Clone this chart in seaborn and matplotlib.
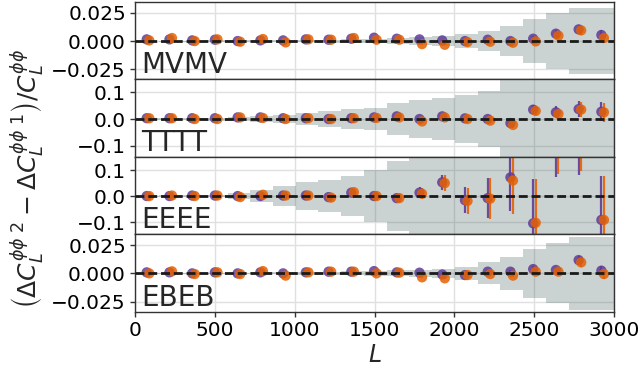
import numpy as np
import pandas as pd
import matplotlib
matplotlib.use("Agg")
import matplotlib.pyplot as plt
import seaborn as sns

# ---------------- data ----------------
bin_edges = [10.0, 152.4, 294.8, 437.1, 579.5, 721.9, 864.3, 1006.7, 1149.0, 1291.4,
             1433.8, 1576.2, 1718.6, 1860.9, 2003.3, 2145.7, 2288.1, 2430.5, 2572.9,
             2715.2, 2857.6, 3000.0]
bin_centers = [81.2, 223.6, 366.0, 508.3, 650.7, 793.1, 935.5, 1077.9, 1220.2, 1362.6,
               1505.0, 1647.4, 1789.8, 1932.1, 2074.5, 2216.9, 2359.3, 2501.7, 2644.0,
               2786.4, 2928.8]

panel_names = ["MVMV", "TTTT", "EEEE", "EBEB"]

band_mvmv = [0.0003, 0.0004, 0.0005, 0.0006, 0.0007, 0.0008, 0.0009, 0.0011, 0.0013, 0.0016,
             0.0019, 0.0025, 0.0033, 0.0045, 0.0064, 0.0092, 0.0134, 0.0194, 0.0247, 0.0293, 0.0296]
band_tttt = [0.002, 0.003, 0.004, 0.0055, 0.0075, 0.011, 0.016, 0.024, 0.030, 0.036,
             0.041, 0.060, 0.070, 0.079, 0.088, 0.106, 0.20, 0.25, 0.30, 0.35, 0.40]
band_eeee = [0.002, 0.003, 0.004, 0.005, 0.012, 0.023, 0.037, 0.054, 0.063, 0.076,
             0.099, 0.135, 0.20, 0.25, 0.30, 0.35, 0.40, 0.45, 0.50, 0.55, 0.60]
band_ebeb = [0.0003, 0.0004, 0.0005, 0.0006, 0.0007, 0.0008, 0.0009, 0.0011, 0.0014, 0.0017,
             0.0021, 0.0027, 0.0030, 0.0040, 0.0060, 0.0097, 0.0147, 0.0215, 0.0267, 0.0323, 0.0323]

mvmv_purple = [0.0015, 0.0015, 0.0006, 0.0012, 0.0, 0.0006, 0.0006, 0.0015, 0.0012, 0.0021,
               0.0030, 0.0021, 0.0015, 0.0006, 0.0, 0.0012, 0.0, 0.0021, 0.0066, 0.0104, 0.0054]
mvmv_orange = [0.0006, 0.0027, 0.0, 0.0015, -0.0006, 0.0018, -0.0012, 0.0015, 0.0012, 0.0027,
               0.0012, 0.0012, -0.0027, -0.0033, -0.0009, -0.0006, -0.0015, -0.0003, 0.0048, 0.0095, 0.0027]
tttt_purple = [0.003, 0.003, 0.003, 0.003, 0.006, 0.006, 0.003, 0.003, 0.0, 0.003,
               0.006, 0.010, 0.0, 0.010, 0.0025, 0.0, -0.015, 0.035, 0.025, 0.037, 0.027]
tttt_orange = [0.003, 0.003, 0.0, 0.0, 0.006, 0.004, 0.0, 0.003, 0.0, 0.003,
               0.004, 0.006, -0.009, 0.006, 0.0, -0.006, -0.022, 0.030, 0.019, 0.035, 0.025]
eeee_purple = [0.0, 0.0, 0.002, 0.002, 0.0, 0.0, 0.002, 0.002, -0.004, 0.013,
               0.0, -0.008, 0.013, 0.053, -0.016, -0.008, 0.072, -0.105, 0.242, 0.251, -0.092]
eeee_orange = [0.0, 0.002, 0.0, 0.002, -0.004, 0.005, 0.002, 0.002, -0.006, 0.015,
               0.0, -0.008, 0.009, 0.050, -0.019, -0.010, 0.060, -0.103, 0.255, 0.267, -0.092]
ebeb_purple = [0.0009, 0.0009, 0.0, 0.0009, 0.0, 0.0009, 0.0, 0.0009, 0.0015, 0.0015,
               0.0020, 0.0009, 0.0006, -0.0010, -0.0015, 0.0015, 0.0015, 0.0038, 0.0030, 0.0118, 0.0024]
ebeb_orange = [0.0, 0.0018, -0.0006, 0.0009, -0.0006, 0.0020, -0.0020, 0.0009, 0.0015, 0.0015,
               0.0, 0.0006, -0.0035, -0.0044, -0.0015, -0.0006, -0.0020, 0.0015, 0.0015, 0.0097, -0.0006]

err_mvmv = [0.0001, 0.0001, 0.0001, 0.0001, 0.0001, 0.0001, 0.0002, 0.0002, 0.0002, 0.0003,
            0.0003, 0.0004, 0.0005, 0.0006, 0.0008, 0.0011, 0.0016, 0.0024, 0.0030, 0.0038, 0.0040]
err_tttt = [0.0003, 0.0004, 0.0005, 0.0006, 0.0008, 0.001, 0.0013, 0.0017, 0.002, 0.0025,
            0.003, 0.004, 0.005, 0.006, 0.008, 0.010, 0.013, 0.016, 0.022, 0.029, 0.035]
err_eeee = [0.0004, 0.0005, 0.0007, 0.001, 0.0014, 0.002, 0.003, 0.004, 0.005, 0.007,
            0.010, 0.014, 0.021, 0.030, 0.051, 0.078, 0.128, 0.170, 0.170, 0.170, 0.170]
err_ebeb = [0.0001, 0.0001, 0.0001, 0.0001, 0.0001, 0.0001, 0.0002, 0.0002, 0.0002, 0.0003,
            0.0003, 0.0004, 0.0005, 0.0006, 0.0008, 0.0011, 0.0016, 0.0024, 0.0030, 0.0040, 0.0040]

panel_bands = [band_mvmv, band_tttt, band_eeee, band_ebeb]
panel_purple = [mvmv_purple, tttt_purple, eeee_purple, ebeb_purple]
panel_orange = [mvmv_orange, tttt_orange, eeee_orange, ebeb_orange]
panel_err = [err_mvmv, err_tttt, err_eeee, err_ebeb]
panel_ylim = [(-0.034, 0.035), (-0.141, 0.148), (-0.148, 0.151), (-0.0343, 0.0345)]
panel_yticks = [[-0.025, 0.0, 0.025], [-0.1, 0.0, 0.1], [-0.1, 0.0, 0.1], [-0.025, 0.0, 0.025]]
x_ticks = [0, 500, 1000, 1500, 2000, 2500, 3000]

# ---------------- style ----------------
sns.set_theme(style="ticks")
plt.rcParams['font.family'] = ['DejaVu Sans']
plt.rcParams['mathtext.fontset'] = 'dejavusans'

purple = "#5e3c99"
orange = "#e66101"
band_color = "darkslategray"

fig, axes = plt.subplots(4, 1, figsize=(6.42, 3.81), dpi=100, sharex=True)
fig.subplots_adjust(left=0.2103, right=0.9564, top=0.9955, bottom=0.181, hspace=0)

off = 8.0
for i, ax in enumerate(axes):
    band = np.array(panel_bands[i])
    band_ext = np.append(band, band[-1])
    ax.fill_between(bin_edges, -band_ext, band_ext, step='post', color=band_color,
                    alpha=0.25, lw=0, zorder=1)
    xc = np.array(bin_centers)
    err = panel_err[i]
    ax.errorbar(xc - off, panel_purple[i], yerr=err, fmt='none', ecolor=purple,
                elinewidth=1.6, alpha=0.9, zorder=2)
    ax.errorbar(xc + off, panel_orange[i], yerr=err, fmt='none', ecolor=orange,
                elinewidth=1.6, alpha=0.9, zorder=2)
    df = pd.DataFrame({
        "L": np.concatenate([xc - off, xc + off]),
        "val": np.concatenate([panel_purple[i], panel_orange[i]]),
        "series": ["sim 1"] * len(xc) + ["sim 2"] * len(xc),
    })
    sns.scatterplot(data=df, x="L", y="val", hue="series", palette=[purple, orange],
                    s=55, linewidth=0, alpha=0.85, legend=False, ax=ax, zorder=3)
    ax.axhline(0, color='k', ls='--', lw=2.0, dashes=(3.2, 1.4), zorder=4)

    ax.set_xlim(0, 3000)
    ax.set_ylim(*panel_ylim[i])
    ax.set_yticks(panel_yticks[i])
    ax.set_xticks(x_ticks)
    ax.grid(True, color='0.88', lw=1.0)
    ax.set_axisbelow(True)
    ax.set_xlabel("")
    ax.set_ylabel("")
    for s in ax.spines.values():
        s.set_color('0.2')
        s.set_linewidth(1.0)
        s.set_visible(True)
    ax.tick_params(axis='both', labelsize=14.5, length=3.5, width=1.0, color='0.2',
                   labelcolor='black', pad=3)
    if i < 3:
        ax.tick_params(axis='x', length=0)
    ax.text(0.012, 0.08, panel_names[i], transform=ax.transAxes, fontsize=20,
            ha='left', va='baseline', zorder=5)

axes[-1].set_xlabel(r"$L$", fontsize=17, labelpad=2)
fig.text(0.042, 0.53, r"$\left(\Delta C_L^{\phi\phi\ 2} - \Delta C_L^{\phi\phi\ 1}\right)/C_L^{\phi\phi}$",
         rotation=90, ha='center', va='center', fontsize=18)

fig.savefig("out.png", dpi=100)
